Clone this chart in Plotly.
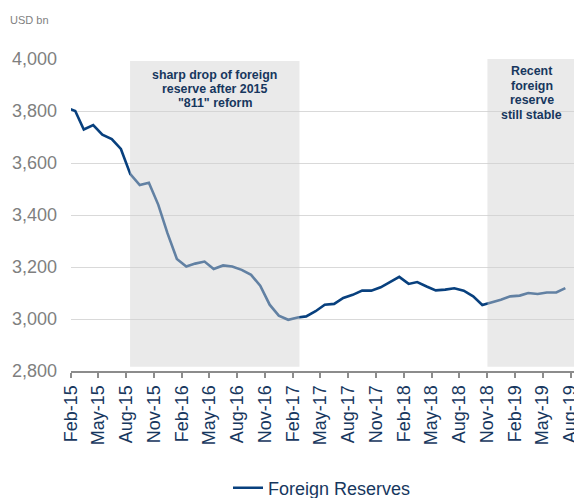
import plotly.graph_objects as go
import pandas as pd

# Monthly data (Jan-15 .. Jul-19), USD bn
reserves = [
    3813, 3800, 3729, 3746, 3709, 3692, 3654, 3557, 3515, 3524, 3439, 3330,
    3231, 3202, 3213, 3221, 3192, 3206, 3202, 3189, 3170, 3128, 3055, 3013,
    2997, 3006, 3010, 3030, 3055, 3058, 3081, 3093, 3109, 3109, 3122, 3141,
    3162, 3135, 3142, 3125, 3110, 3113, 3118, 3109, 3087, 3054, 3064, 3074,
    3087, 3090, 3100, 3096, 3102, 3102, 3119,
]
months = pd.date_range("2015-01-01", periods=55, freq="MS") + pd.Timedelta(days=14)

tick_vals = pd.date_range("2015-02-01", "2019-08-01", freq="3MS")
tick_text = [d.strftime("%b-%y") for d in tick_vals]

shade_periods = [("2015-08-14", "2017-02-21", 2816, 3992),
                 ("2018-11-01", "2019-08-19", 2816, 4000)]
note1 = ["sharp drop of foreign", "reserve after 2015", "\"811\" reform"]
note2 = ["Recent", "foreign", "reserve", "still stable"]

NAVY = "#08407e"
TXT = "#17375e"

fig = go.Figure()
fig.add_trace(go.Scatter(
    x=months, y=reserves, mode="lines", name="Foreign Reserves",
    line=dict(color=NAVY, width=2.6),
))

shapes = []
for x0, x1, y0, y1 in shade_periods:
    shapes.append(dict(type="rect", xref="x", yref="y", x0=x0, x1=x1, y0=y0, y1=y1,
                       fillcolor="rgba(208,208,208,0.45)", line=dict(width=0), layer="above"))

# page body has an 8px margin: positions below are given in window pixels
def py(p):
    return (371 - p) / 312

def px(p):
    return (p - 71) / 505

annotations = [dict(text="USD bn", xref="paper", yref="paper", x=px(8), y=py(20),
                    xanchor="left", yanchor="middle", showarrow=False,
                    font=dict(size=11, color="#7f7f7f", family="Liberation Sans, Arial"))]
for i, t in enumerate(note1):
    annotations.append(dict(text=f"<b>{t}</b>", xref="paper", yref="paper",
                            x=px(214.5), y=py(75 + 14.2 * i), xanchor="center", yanchor="middle",
                            showarrow=False,
                            font=dict(size=12.4, color=TXT, family="Liberation Sans, Arial")))
for i, t in enumerate(note2):
    annotations.append(dict(text=f"<b>{t}</b>", xref="paper", yref="paper",
                            x=px(531.5), y=py(70.7 + 14.8 * i), xanchor="center", yanchor="middle",
                            showarrow=False,
                            font=dict(size=12.4, color=TXT, family="Liberation Sans, Arial")))

fig.update_layout(
    width=574, height=490,
    margin=dict(l=63, r=6, t=51, b=127, autoexpand=False),
    paper_bgcolor="white", plot_bgcolor="white",
    font=dict(family="Liberation Sans, Arial", color=TXT),
    showlegend=True,
    legend=dict(orientation="h", x=px(228), xanchor="left", y=py(488), yanchor="middle",
                font=dict(size=18, color=TXT), bgcolor="rgba(0,0,0,0)"),
    shapes=shapes,
    annotations=annotations,
    xaxis=dict(
        type="date", range=["2015-02-01", "2019-08-19"],
        tickmode="array", tickvals=tick_vals, ticktext=tick_text,
        tickangle=-90, ticks="outside", ticklen=5, tickcolor="#8c8c8c", tickwidth=1.5,
        showline=True, linecolor="#8c8c8c", linewidth=2,
        showgrid=False, zeroline=False, automargin=False,
        tickfont=dict(size=18, color=TXT),
    ),
    yaxis=dict(
        range=[2800, 4000], tickvals=[2800, 3000, 3200, 3400, 3600, 3800, 4000],
        tickformat=",", showgrid=True, gridcolor="#d9d9d9", gridwidth=1.3,
        zeroline=False, showline=False, ticks="", automargin=False,
        ticklabelstandoff=13,
        tickfont=dict(size=18, color="#7f7f7f"),
    ),
)

fig.write_html("out.html")
